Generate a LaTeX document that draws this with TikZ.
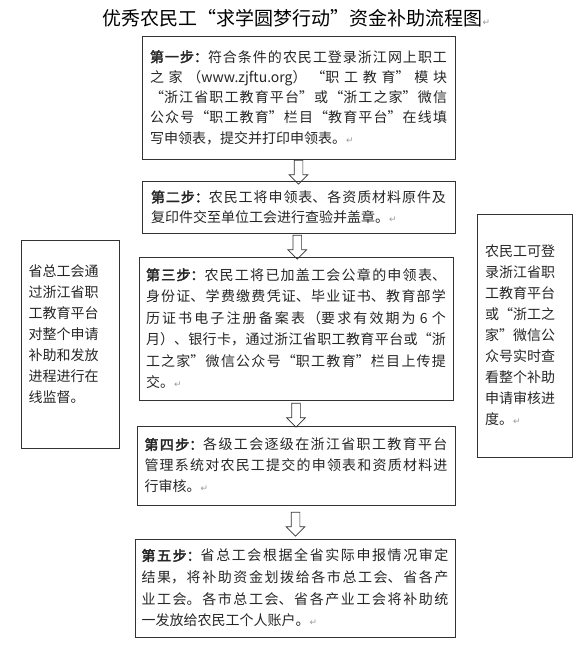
\documentclass[tikz,border=0pt]{standalone}
\usepackage{fontspec}
\setmainfont{Noto Sans CJK SC}[AutoFakeBold=2.5]
\newfontfamily\markfont{DejaVu Sans}
\usepackage{xcolor}
\usepackage{tikz}
\usetikzlibrary{shapes.arrows,positioning}
\XeTeXlinebreaklocale "zh"
\XeTeXlinebreakskip=0pt plus 3pt
\tolerance=9999
\definecolor{boxline}{HTML}{333333}
\definecolor{markgray}{HTML}{9A9A9A}
\newcommand{\retmark}{{\markfont\fontsize{9}{9}\selectfont\textcolor{markgray}{↵}}}
\tikzset{
  stepbox/.style={draw=boxline,line width=0.8pt,align=justify,inner xsep=2pt,inner ysep=2pt,
    font=\fontsize{14}{21}\selectfont,text=black!85},
  sidebox/.style={stepbox,align=left},
  downarr/.style={single arrow,draw=boxline,line width=0.7pt,shape border rotate=270,inner sep=4pt,
    single arrow head extend=5pt,single arrow tip angle=90,minimum height=24pt},
  titletext/.style={font=\fontsize{19}{23}\selectfont,text=black},
}

\begin{document}
\begin{tikzpicture}[x=1pt,y=-1pt]
  \fill[white] (0,0) rectangle (588,655);
  \node[titletext] (nT) at (296.5,18) {优秀农民工“求学圆梦行动”资金补助流程图\retmark};
  % steps
  \node[stepbox,minimum width=313pt,minimum height=123pt,text width=297pt,font=\fontsize{14}{20.3}\selectfont] (nS1) at (298.5,97.5)
    {\textbf{第一步：}符合条件的农民工登录浙江网上职工\linebreak
     之家（www.zjftu.org）“职工教育”模块\linebreak
     “浙江省职工教育平台”或“浙工之家”微信\linebreak
     公众号“职工教育”栏目“教育平台”在线填\linebreak
     写申领表，提交并打印申领表。\retmark};
  \node[stepbox,minimum width=313pt,minimum height=52pt,text width=295pt,font=\fontsize{14}{20}\selectfont] (nS2) at (298.5,207)
    {\textbf{第二步：}农民工将申领表、各资质材料原件及\linebreak
     复印件交至单位工会进行查验并盖章。\retmark};
  \node[stepbox,minimum width=314pt,minimum height=143pt,text width=300pt,font=\fontsize{14}{21.5}\selectfont] (nS3) at (296,328.5)
    {\textbf{第三步：}农民工将已加盖工会公章的申领表、\linebreak
     身份证、学费缴费凭证、毕业证书、教育部学\linebreak
     历证书电子注册备案表（要求有效期为 6 个\linebreak
     月）、银行卡，通过浙江省职工教育平台或“浙\linebreak
     工之家”微信公众号“职工教育”栏目上传提\linebreak
     交。\retmark};
  \node[stepbox,minimum width=318pt,minimum height=79pt,text width=303pt] (nS4) at (296,465.5)
    {\textbf{第四步：}各级工会逐级在浙江省职工教育平台\linebreak
     管理系统对农民工提交的申领表和资质材料进\linebreak
     行审核。\retmark};
  \node[stepbox,minimum width=320pt,minimum height=98pt,text width=307pt,font=\fontsize{14}{21.7}\selectfont] (nS5) at (295,588)
    {\textbf{第五步：}省总工会根据全省实际申报情况审定\linebreak
     结果，将补助资金划拨给各市总工会、省各产\linebreak
     业工会。各市总工会、省各产业工会将补助统\linebreak
     一发放给农民工个人账户。\retmark};
  % side notes
  \node[sidebox,minimum width=98pt,minimum height=208pt,text width=83pt] (nL) at (70,344)
    {省总工会通\\过浙江省职\\工教育平台\\对整个申请\\补助和发放\\进程进行在\\线监督。\\\mbox{}};
  \node[sidebox,minimum width=95pt,minimum height=243pt,text width=79pt] (nR) at (524.5,335.5)
    {农民工可登\\录浙江省职\\工教育平台\\或“浙工之\\家”微信公\\众号实时查\\看整个补助\\申请审核进\\度。\retmark};
  % arrows
  \path (nS1.south) -- (nS2.north) node[downarr,midway] (nA1) {};
  \path (nS2.south) -- (nS3.north) node[downarr,midway] (nA2) {};
  \path (nS3.south) -- (nS4.north) node[downarr,midway] (nA3) {};
  \path (nS4.south) -- (nS5.north) node[downarr,midway] (nA4) {};
\end{tikzpicture}
\end{document}
